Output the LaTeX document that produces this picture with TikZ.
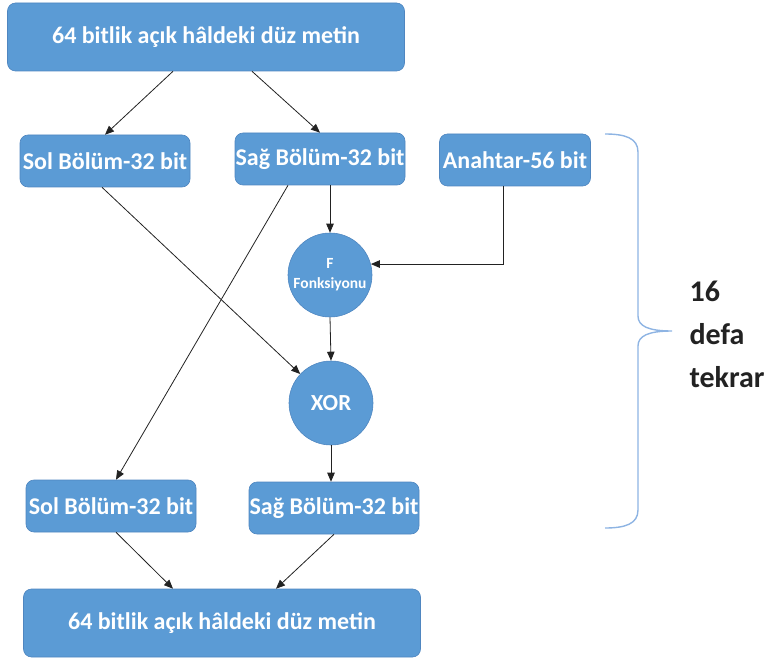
\documentclass[tikz,border=0pt]{standalone}
\usepackage{fontspec}
\setmainfont{Carlito}
\usepackage{xcolor}
\usetikzlibrary{arrows.meta, positioning, calc}
\definecolor{boxblue}{HTML}{5B9BD5}
\definecolor{boxline}{HTML}{4F86C0}
\definecolor{bracecol}{HTML}{8EB4E3}
\definecolor{inkgray}{HTML}{222222}
\tikzset{
  part/.style={draw=boxline, fill=boxblue, rounded corners=8pt, minimum width=170pt, minimum height=52pt, inner sep=0pt, text=white, font=\fontsize{24}{28}\selectfont\bfseries, line width=0.6pt},
  wide/.style={part, minimum width=397pt, minimum height=68pt},
  func/.style={draw=boxline, fill=boxblue, circle, minimum size=84pt, inner sep=0pt, text=white, align=center, font=\bfseries, line width=0.6pt},
  link/.style={-{Triangle[length=9pt, width=7.5pt]}, draw=inkgray, line width=0.8pt},
  bracket/.style={draw=bracecol, line width=1.4pt}
}

\begin{document}
\begin{tikzpicture}[x=1pt, y=-1pt]
        \useasboundingbox (0,0) rectangle (771,663);

        % Plain text blocks
        \node[wide] (plainTop) at (206,37)  {64 bitlik açık hâldeki düz metin};
        \node[wide] (plainBot) at (222,623) {64 bitlik açık hâldeki düz metin};

        % Halves and key
        \node[part] (leftTop)  at (105,161) {Sol Bölüm-32 bit};
        \node[part] (rightTop) at (320,159) {Sağ Bölüm-32 bit};
        \node[part, minimum width=151pt] (key) at (515,160) {Anahtar-56 bit};
        \node[part] (leftBot)  at (111,506) {Sol Bölüm-32 bit};
        \node[part] (rightBot) at (334,508) {Sağ Bölüm-32 bit};

        % Round function
        \node[func, font=\fontsize{15.5}{20}\selectfont\bfseries] (fFunc) at (330,275) {F\\Fonksiyonu};
        \node[func, font=\fontsize{23}{26}\selectfont\bfseries] (xor) at (331,403) {XOR};

        % Links
        \draw[link] ([xshift=-33pt]plainTop.south) -- (leftTop.north);
        \draw[link] ([xshift=46pt]plainTop.south) -- (rightTop.north);

        \draw[link] (fFunc.north |- rightTop.south) -- (fFunc.north);
        \draw[link] ([xshift=-12pt]key.south) |- (fFunc.15);
        \draw[link] (fFunc.south) -- (xor.north);

        \draw[link] ([xshift=-3pt]leftTop.south) -- (xor);
        \draw[link] ([xshift=-32pt]rightTop.south) -- ([xshift=5pt]leftBot.north);
        \draw[link] (xor.south) -- (xor.south |- rightBot.north);

        \draw[link] ([xshift=5pt]leftBot.south) -- ([xshift=-49pt]plainBot.north);
        \draw[link] (rightBot.south) -- ([xshift=54pt]plainBot.north);

        % Repeat bracket
        \draw[bracket] (605,134) .. controls (625,134) and (638,138) .. (638,152) -- (638,316)
          .. controls (638,326) and (648,331) .. (672,331)
          .. controls (648,331) and (638,336) .. (638,346) -- (638,510)
          .. controls (638,524) and (625,528) .. (605,528);
        \node[anchor=west, align=left, text=inkgray, font=\fontsize{30}{43}\selectfont\bfseries] (repeat) at (686,334) {16\\defa\\tekrar};
    \end{tikzpicture}
\end{document}
